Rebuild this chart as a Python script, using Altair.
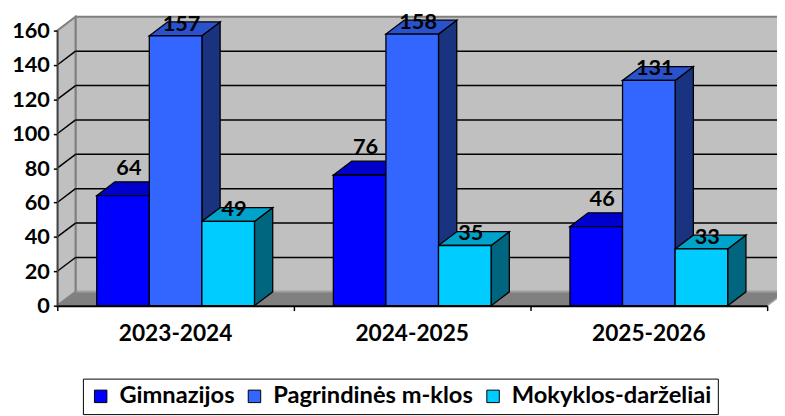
import altair as alt
import pandas as pd

# ---- data ----
categories = ["2023-2024", "2024-2025", "2025-2026"]
series = ["Gimnazijos", "Pagrindinės m-klos", "Mokyklos-darželiai"]
gimnazijos = [64, 76, 46]
pagrindines = [157, 158, 131]
mokyklos = [49, 35, 33]
values = [gimnazijos, pagrindines, mokyklos]

y_ticks = [0, 20, 40, 60, 80, 100, 120, 140, 160]

# ---- style ----
front_colors = ["#0000FF", "#3366FF", "#00CCFF"]
top_colors = ["#0000CC", "#2952CC", "#00A3CC"]
side_colors = ["#000099", "#1A3380", "#006680"]
label_lift = [16.0, 7.0, 7.0]  # value units above the front top
FONT = "Lato"

W, H = 720, 279
YMAX = 160
NCAT = len(categories)
BAR_W = 2 / 9
LEAD = 1 / 6
DX = 18.5 / (W / NCAT)      # depth offset in x units
DY = 14 * YMAX / H          # depth offset in y units

xs = alt.Scale(domain=[0, NCAT], nice=False, zero=False)
ys = alt.Scale(domain=[0, YMAX], nice=False)

x_axis = alt.Axis(
    values=list(range(NCAT + 1)), labels=False, title=None, grid=False,
    domainColor="black", domainWidth=2, tickColor="black", tickSize=5, tickWidth=1.5, zindex=1
)
y_axis = alt.Axis(
    values=y_ticks, title=None, grid=False, domainColor="#404040", domainWidth=1.5,
    tickColor="black", tickSize=4, tickWidth=1.5, labelFont=FONT, labelFontSize=22,
    labelFontWeight="bold", labelColor="black", labelPadding=4, zindex=1,
    labelOverlap=False, labelBound=False, labelFlush=False
)


def X(f):
    return alt.X(f, scale=xs, axis=x_axis)


def Y(f):
    return alt.Y(f, scale=ys, axis=y_axis)


fronts, sides, tops, labels = [], [], [], []
for j, s in enumerate(series):
    for i, c in enumerate(categories):
        v = values[j][i]
        xl = i + LEAD + j * BAR_W
        xr = xl + BAR_W
        fid = f"{j}-{i}"
        fronts.append(dict(series=s, x=xl, x2=xr, y=0, y2=v))
        sides.append(dict(id=fid, x=xr, lo=0, hi=v, col=side_colors[j]))
        sides.append(dict(id=fid, x=xr + DX, lo=DY, hi=v + DY, col=side_colors[j]))
        tops.append(dict(id=fid, y=v, a=xl, b=xr, col=top_colors[j]))
        tops.append(dict(id=fid, y=v + DY, a=xl + DX, b=xr + DX, col=top_colors[j]))
        labels.append(dict(x=xl + BAR_W / 2 + 0.025, y=v + label_lift[j], t=str(v)))

fronts = pd.DataFrame(fronts)
sides = pd.DataFrame(sides)
tops = pd.DataFrame(tops)
labels = pd.DataFrame(labels)

back_wall = alt.Chart(pd.DataFrame([dict(x=DX, x2=NCAT + DX, y=DY, y2=YMAX + DY)])).mark_rect(
    fill="#C0C0C0", stroke="#808080", strokeWidth=2
).encode(x=X("x:Q"), x2="x2", y=Y("y:Q"), y2="y2")

left_wall = alt.Chart(pd.DataFrame([
    dict(x=0, lo=0, hi=YMAX), dict(x=DX, lo=DY, hi=YMAX + DY)
])).mark_area(fill="#C0C0C0", stroke="#808080", strokeWidth=2).encode(
    x=X("x:Q"), y=Y("hi:Q"), y2="lo"
)

floor = alt.Chart(pd.DataFrame([
    dict(y=0, a=0, b=NCAT), dict(y=DY, a=DX, b=NCAT + DX)
])).mark_area(orient="horizontal", fill="#808080", stroke="#A0A0A0", strokeWidth=1.5).encode(
    y=Y("y:Q"), x=X("a:Q"), x2="b"
)

grid_vals = y_ticks[1:-1]
back_grid = alt.Chart(pd.DataFrame(dict(v=[g + DY for g in grid_vals]))).mark_rule(
    color="black", strokeWidth=1.5
).encode(x=alt.value(DX * W / NCAT), x2=alt.value(W + 20), y=Y("v:Q"))

lg = []
for g in grid_vals:
    lg.append(dict(g=g, x=0, y=g))
    lg.append(dict(g=g, x=DX, y=g + DY))
left_grid = alt.Chart(pd.DataFrame(lg)).mark_line(color="black", strokeWidth=1.5).encode(
    x=X("x:Q"), y=Y("y:Q"), detail="g:N"
)

side_layer = alt.Chart(sides).mark_area(stroke="black", strokeWidth=1.3).encode(
    x=X("x:Q"), y=Y("hi:Q"), y2="lo",
    detail="id:N", color=alt.Color("col:N", scale=None)
)

top_layer = alt.Chart(tops).mark_area(orient="horizontal", stroke="black", strokeWidth=1.3).encode(
    y=Y("y:Q"), x=X("a:Q"), x2="b",
    detail="id:N", color=alt.Color("col:N", scale=None)
)

front_layer = alt.Chart(fronts).mark_rect(stroke="black", strokeWidth=1.3).encode(
    x=X("x:Q"), x2="x2", y=Y("y:Q"), y2="y2",
    fill=alt.Fill("series:N", scale=alt.Scale(domain=series, range=front_colors),
                  sort=series,
                  legend=alt.Legend(
                      title=None, orient="none", legendX=26, legendY=353, direction="horizontal",
                      strokeColor="black", padding=6, symbolType="square", symbolSize=160,
                      symbolStrokeColor="black", symbolStrokeWidth=1, labelFont=FONT,
                      labelFontSize=24, labelFontWeight="bold", labelColor="black",
                      columnPadding=8, labelOffset=7, labelLimit=400
                  )),
)

label_layer = alt.Chart(labels).mark_text(
    font=FONT, fontSize=22, fontWeight="bold", color="black", baseline="middle", align="center"
).encode(x=X("x:Q"), y=Y("y:Q"), text="t:N")

cat_layer = alt.Chart(pd.DataFrame(dict(c=categories, x=[i + 0.5 for i in range(NCAT)]))).mark_text(
    font=FONT, fontSize=23, fontWeight="bold", color="black", baseline="middle", align="center"
).encode(x=X("x:Q"), y=alt.value(308), text="c:N")

chart = alt.layer(
    back_wall, floor, left_wall, back_grid, left_grid, side_layer, top_layer,
    front_layer, label_layer, cat_layer
).properties(
    width=W, height=H,
    autosize=alt.AutoSizeParams(type="none"),
    padding={"left": 50, "top": 20, "right": 10, "bottom": 109},
    background="white",
).configure_view(strokeWidth=0).configure_axis(labelOverlap=False)

chart.save("out.html", embed_options={"renderer": "svg", "actions": False})
